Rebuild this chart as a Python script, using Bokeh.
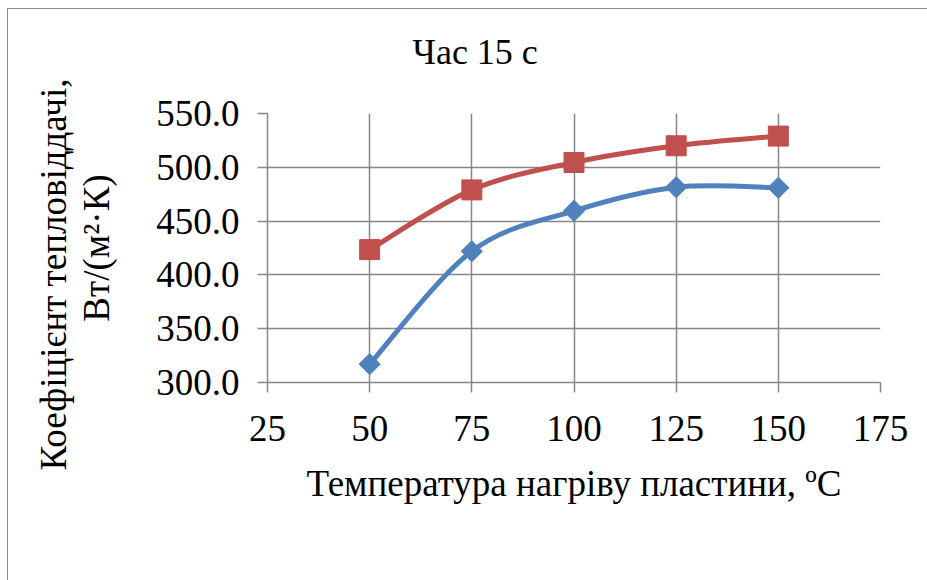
import numpy as np
from bokeh.plotting import figure
from bokeh.models import (Range1d, FixedTicker, NumeralTickFormatter, Title,
                          Legend, LegendItem, ColumnDataSource)
from bokeh.embed import file_html
from bokeh.resources import INLINE

# ---- data ----
temps = [50, 75, 100, 125, 150]
no_us = [317, 422, 459.5, 481.5, 481]
with_us = [423.5, 479, 504.5, 520, 529]
series_names = ["без ультразвуку", "з ультразвуком"]
series_colors = ["#4F81BD", "#C0504D"]
x_ticks = [25, 50, 75, 100, 125, 150, 175]
y_ticks = [300, 350, 400, 450, 500, 550]
title_text = "Час 15 с"
x_label = "Температура нагріву пластини, ºC"
y_label_1 = "Коефіцієнт тепловіддачі,"
y_label_2 = "Вт/(м²·К)"

FONT = "Liberation Serif"
GRID = "#868686"


def smooth_segments(xs, ys):
    """Catmull-Rom style Bezier control points (like Excel's smoothed line)."""
    xs = np.asarray(xs, float)
    ys = np.asarray(ys, float)
    n = len(xs)
    d = dict(x0=[], y0=[], x1=[], y1=[], cx0=[], cy0=[], cx1=[], cy1=[])
    for i in range(n - 1):
        ip = max(i - 1, 0)
        inx = min(i + 2, n - 1)
        d["x0"].append(xs[i]); d["y0"].append(ys[i])
        d["x1"].append(xs[i + 1]); d["y1"].append(ys[i + 1])
        d["cx0"].append(xs[i] + (xs[i + 1] - xs[ip]) / 6)
        d["cy0"].append(ys[i] + (ys[i + 1] - ys[ip]) / 6)
        d["cx1"].append(xs[i + 1] - (xs[inx] - xs[i]) / 6)
        d["cy1"].append(ys[i + 1] - (ys[inx] - ys[i]) / 6)
    return ColumnDataSource(d)


p = figure(frame_width=613, frame_height=269, title=None,
           x_range=Range1d(25, 175), y_range=Range1d(300, 550),
           output_backend="svg", toolbar_location=None,
           min_border_left=259, min_border_right=47,
           min_border_top=104, min_border_bottom=0)
p.outline_line_color = None
p.background_fill_color = "white"
p.border_fill_color = "white"
p.styles = {"margin-left": "7px", "margin-top": "8px",
            "border-left": "1px solid #8c8c8c", "border-top": "1px solid #8c8c8c"}

# title: a blank spacer next to the frame, then the title text
p.add_layout(Title(text=" ", standoff=0, text_font=FONT, text_font_size="36px"), "above")
p.add_layout(Title(text=title_text, align="left", offset=145, standoff=0,
                   text_font=FONT, text_font_size="36px", text_font_style="normal",
                   text_color="black"), "above")

# axes
p.xaxis.ticker = FixedTicker(ticks=x_ticks)
p.yaxis.ticker = FixedTicker(ticks=y_ticks)
p.yaxis.formatter = NumeralTickFormatter(format="0.0")
for ax in (p.xaxis[0], p.yaxis[0]):
    ax.axis_line_color = GRID
    ax.axis_line_width = 1.5
    ax.major_tick_line_color = GRID
    ax.major_tick_line_width = 1.5
    ax.major_tick_in = 0
    ax.major_tick_out = 10
    ax.minor_tick_line_color = None
    ax.major_label_text_font = FONT
    ax.major_label_text_font_size = "37px"
    ax.major_label_text_color = "black"
    ax.axis_label_text_font = FONT
    ax.axis_label_text_font_size = "37px"
    ax.axis_label_text_font_style = "normal"
    ax.axis_label_text_color = "black"
p.xaxis.major_label_standoff = 23
p.yaxis.major_label_standoff = 18

p.xaxis.axis_label = x_label
p.xaxis.axis_label_standoff = 19

p.yaxis.axis_label = y_label_2
p.yaxis.axis_label_standoff = 36

p.grid.grid_line_color = GRID
p.grid.grid_line_width = 1.5

# first line of the y label as a left title
p.add_layout(Title(text=y_label_1, align="left", offset=-88, standoff=0,
                   text_font=FONT, text_font_size="37px", text_font_style="normal",
                   text_color="black"), "left")

# series
items = []
for ys, name, col, mk, sz, ang in ((no_us, series_names[0], series_colors[0], "square", 15, np.pi / 4),
                                   (with_us, series_names[1], series_colors[1], "square", 20, 0)):
    src = smooth_segments(temps, ys)
    r_line = p.bezier(x0="x0", y0="y0", x1="x1", y1="y1", cx0="cx0", cy0="cy0",
                      cx1="cx1", cy1="cy1", source=src, line_color=col, line_width=5)
    r_pt = p.scatter(temps, ys, marker=mk, size=sz, angle=ang,
                     fill_color=col, line_color=col)
    items.append(LegendItem(label=name, renderers=[r_line, r_pt]))

legend = Legend(items=items, orientation="horizontal", location="center",
                glyph_width=54, glyph_height=36, label_standoff=3, spacing=30,
                padding=0, margin=12, border_line_color=None, background_fill_alpha=0,
                label_text_font=FONT, label_text_font_size="35px", label_text_color="black")
p.add_layout(legend, "below")

open("out.html", "w").write(file_html(p, INLINE))
